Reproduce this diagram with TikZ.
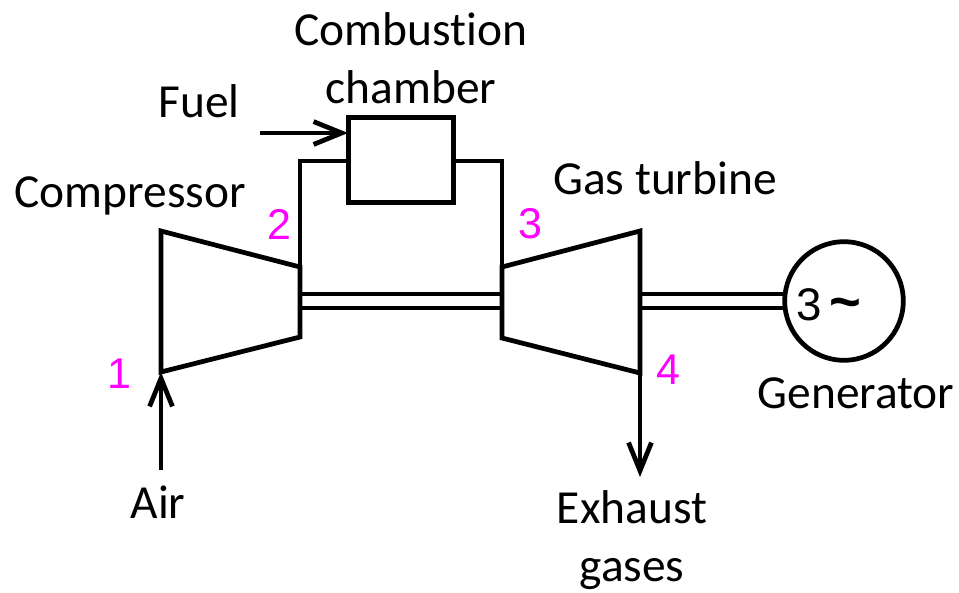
\documentclass[tikz,border=0pt]{standalone}
\usepackage{fontspec}
\setmainfont{Carlito}[Ligatures=NoCommon]
\newfontfamily\numfont{Liberation Sans}
\usetikzlibrary{arrows.meta}
\definecolor{statecolor}{RGB}{255,0,255}
\tikzstyle{label} = [inner sep=0pt, text centered, font=\fontsize{27pt}{33pt}\selectfont, align=center]
\tikzstyle{statenum} = [inner sep=0pt, text=statecolor, font=\numfont\fontsize{24.5pt}{28pt}\selectfont]
\tikzstyle{chamber} = [rectangle, draw=black, line width=2.7pt, minimum width=60pt, minimum height=48pt, inner sep=0pt]
\tikzstyle{generator} = [circle, draw=black, line width=2.7pt, minimum size=67.5pt, inner sep=0pt]
\tikzstyle{gentext} = [inner sep=0pt, font=\numfont\fontsize{26pt}{30pt}\selectfont]
\tikzstyle{casing} = [line width=2.7pt, line join=miter]
\tikzstyle{shaft} = [line width=2.2pt]
\tikzstyle{edge} = [line width=2.7pt, -{Straight Barb[length=16pt,width=13pt,line width=2.7pt]}]

\begin{document}
\begin{tikzpicture}[x=0.02cm, y=-0.02cm]
\useasboundingbox (0,0) rectangle (959,592);

\node (chamber) [chamber] at (401,160) {};
\node (gen) [generator] at (844,301) {};
\node (gentext) [gentext] at (829,305) {3\,{\bfseries\fontsize{31pt}{30pt}\selectfont\char"7E}};

\coordinate (c1) at (161,231);
\coordinate (c2) at (300,267);
\coordinate (c3) at (300,337);
\coordinate (c4) at (161,372);
\coordinate (t1) at (502,267);
\coordinate (t2) at (640,231);
\coordinate (t3) at (640,373);
\coordinate (t4) at (502,338);
\coordinate (airin) at (161,470);
\coordinate (fuelin) at (260,133);
\coordinate (fuelend) at (348,133);
\coordinate (exhaustend) at (640,477);

\draw [casing] (c1) -- (c2) -- (c3) -- (c4) -- cycle;
\draw [casing] (t1) -- (t2) -- (t3) -- (t4) -- cycle;

\coordinate (d2) at (300,161);
\coordinate (d2end) at (349,161);
\coordinate (d3) at (502,161);
\coordinate (d3end) at (453,161);
\draw [casing] (c2) -- (d2) -- (d2end);
\draw [casing] (t1) -- (d3) -- (d3end);

\coordinate (s1) at (300,294);
\coordinate (s2) at (502,294);
\coordinate (s3) at (300,308);
\coordinate (s4) at (502,308);
\coordinate (s5) at (640,294);
\coordinate (s6) at (784,294);
\coordinate (s7) at (640,308);
\coordinate (s8) at (784,308);
\draw [shaft] (s1) -- (s2);
\draw [shaft] (s3) -- (s4);
\draw [shaft] (s5) -- (s6);
\draw [shaft] (s7) -- (s8);

\draw [edge] (airin) -- (c4);
\draw [edge] (fuelin) -- (fuelend);
\draw [edge] (t3) -- (exhaustend);

\node (combustion) [label] at (411,58) {Combustion\\chamber};
\node (fuel) [label] at (199,101) {Fuel};
\node (compressor) [label] at (130,196) {Compressor};
\node (turbine) [label] at (665,178) {Gas turbine};
\node (generatorlabel) [label] at (856,393) {Generator};
\node (air) [label] at (158,502) {Air};
\node (exhaust) [label] at (632,540) {Exhaust\\gases};

\node (n1) [statenum] at (119,374) {1};
\node (n2) [statenum] at (279,224) {2};
\node (n3) [statenum] at (530,224) {3};
\node (n4) [statenum] at (668,370) {4};

\end{tikzpicture}
\end{document}
